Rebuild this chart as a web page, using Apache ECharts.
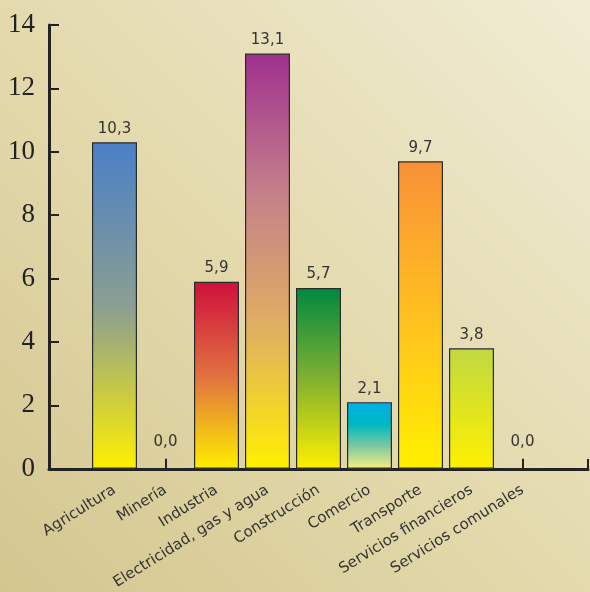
<!DOCTYPE html>
<html>
<head>
<meta charset="utf-8">
<script src="https://cdn.jsdelivr.net/npm/echarts@6/dist/echarts.min.js"></script>
<style>
  html, body { margin: 0; padding: 0; }
  #chart { width: 590px; height: 592px; }
</style>
</head>
<body>
<div id="chart"></div>
<script>
// Sectors and their values
const categories = [
  'Agricultura', 'Minería', 'Industria', 'Electricidad, gas y agua',
  'Construcción', 'Comercio', 'Transporte', 'Servicios financieros',
  'Servicios comunales'
];
const values = [10.3, 0.0, 5.9, 13.1, 5.7, 2.1, 9.7, 3.8, 0.0];
const yTicks = [0, 2, 4, 6, 8, 10, 12, 14];

// Vertical gradient per bar (top colour first)
const barGradients = [
  ['#4a80c8', '#8a9e92', '#fff000'],
  ['#999999', '#fff000'],
  ['#d0103c', '#e07040', '#ffee00'],
  ['#a0308f', '#c4808a', '#e0b060', '#fff000'],
  ['#008840', '#80b030', '#fff000'],
  ['#00aee8', '#00b8c0', '#80c8a0', '#f8f080'],
  ['#f89038', '#ffc020', '#fff000'],
  ['#c0d840', '#fff000'],
  ['#999999', '#fff000']
];

function gradient(stops) {
  return {
    type: 'linear', x: 0, y: 0, x2: 0, y2: 1,
    colorStops: stops.map((c, i) => ({ offset: i / (stops.length - 1), color: c }))
  };
}

const barData = values.map((v, i) => ({
  value: v,
  itemStyle: { color: gradient(barGradients[i]) },
  label: { distance: v === 0 ? 19 : 6 }
}));

const textFont = 'DejaVu Sans';
const chart = echarts.init(document.getElementById('chart'));
chart.setOption({
  animation: false,
  backgroundColor: {
    type: 'linear', x: 0, y: 1, x2: 1, y2: 0,
    colorStops: [
      { offset: 0, color: '#d3c68f' },
      { offset: 0.45, color: '#e2d8aa' },
      { offset: 1, color: '#f1ecd4' }
    ]
  },
  grid: [
    { left: 89, right: 42, top: 25, bottom: 123 },
    { left: 49, right: 2, top: 25, bottom: 123 }
  ],
  xAxis: [
    {
      type: 'category', gridIndex: 0, data: categories,
      axisLine: { show: false },
      axisTick: { show: true, inside: true, length: 10, alignWithLabel: true, interval: 0,
                  lineStyle: { color: '#222', width: 2 } },
      axisLabel: { interval: 0, rotate: 32, margin: 20, color: '#333',
                   fontFamily: textFont, fontSize: 15 }
    },
    {
      type: 'value', gridIndex: 1, min: 0, max: 1, interval: 1,
      axisLine: { show: true, lineStyle: { color: '#222', width: 3 } },
      axisTick: { show: true, inside: true, length: 10, lineStyle: { color: '#222', width: 2 } },
      axisLabel: { show: false },
      splitLine: { show: false }
    }
  ],
  yAxis: [
    {
      type: 'value', gridIndex: 0, min: yTicks[0], max: yTicks[yTicks.length - 1], interval: 2,
      offset: 40,
      axisLine: { show: true, lineStyle: { color: '#222', width: 3 } },
      axisTick: { show: true, inside: true, length: 10, lineStyle: { color: '#222', width: 2 } },
      axisLabel: { margin: 14, color: '#222', fontFamily: 'Liberation Serif', fontSize: 27 },
      splitLine: { show: false }
    },
    { type: 'value', gridIndex: 1, min: 0, max: 1, show: false }
  ],
  series: [{
    type: 'bar',
    xAxisIndex: 0, yAxisIndex: 0,
    data: barData,
    barWidth: 45,
    itemStyle: { borderColor: '#2a2a2a', borderWidth: 1.2 },
    label: {
      show: true, position: 'top', color: '#333',
      fontFamily: textFont, fontSize: 15,
      formatter: p => p.value.toFixed(1).replace('.', ',')
    }
  }]
});
</script>
</body>
</html>
